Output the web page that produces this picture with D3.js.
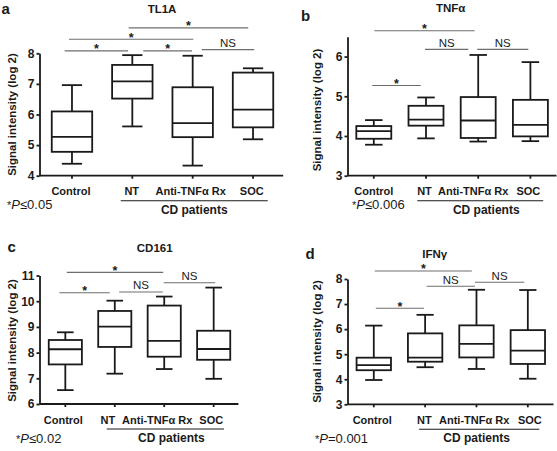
<!DOCTYPE html>
<html>
<head>
<meta charset="utf-8">
<script src="https://cdn.jsdelivr.net/npm/d3@7"></script>
<style>
  html, body { margin: 0; padding: 0; background: #fff; }
  svg { display: block; }
  text { font-family: "Liberation Sans", Arial, Helvetica, sans-serif; }
</style>
</head>
<body>
<svg id="chart" width="557" height="451"></svg>
<script>
// ---------------- DATA ----------------
const categories = ["Control", "NT", "Anti-TNFα Rx", "SOC"];
// box summaries per category: [min, q1, median, q3, max]
const tl1aBoxes  = [[4.39, 4.78, 5.27, 6.10, 6.96], [5.61, 6.52, 7.08, 7.62, 7.94], [4.33, 5.26, 5.72, 6.89, 7.92], [5.19, 5.58, 6.16, 7.37, 7.51]];
const tnfaBoxes  = [[3.78, 3.93, 4.12, 4.25, 4.40], [3.94, 4.26, 4.41, 4.76, 4.97], [3.86, 3.95, 4.39, 4.98, 6.04], [3.87, 3.99, 4.28, 4.91, 5.86]];
const cd161Boxes = [[6.54, 7.54, 8.13, 8.49, 8.79], [7.18, 8.22, 9.01, 9.62, 10.02], [7.36, 7.84, 8.46, 9.83, 10.18], [6.98, 7.72, 8.14, 8.85, 10.53]];
const ifngBoxes  = [[3.97, 4.36, 4.56, 4.86, 6.14], [4.48, 4.70, 4.86, 5.83, 6.57], [4.41, 4.87, 5.41, 6.15, 7.57], [4.02, 4.61, 5.14, 5.96, 7.56]];
// y tick labels
const tl1aTicks  = [4, 5, 6, 7, 8];
const tnfaTicks  = [3, 4, 5, 6];
const cd161Ticks = [6, 7, 8, 9, 10, 11];
const ifngTicks  = [3, 4, 5, 6, 7, 8];
// comparison brackets: [from (category index), to (category index), level (y value), label]
const tl1aComps  = [[-0.12, 0.93, 8.08, "*"], [1.18, 1.99, 8.08, "*"], [2.15, 3.02, 8.12, "NS"], [-0.05, 2.01, 8.46, "*"], [0.94, 2.92, 8.83, "*"]];
const tnfaComps  = [[0.01, 1.93, 6.65, "*"], [0.98, 1.81, 6.18, "NS"], [1.98, 2.96, 6.18, "NS"], [-0.03, 0.90, 5.27, "*"]];
const cd161Comps = [[0.03, 1.98, 11.12, "*"], [-0.12, 0.90, 10.33, "*"], [1.09, 1.97, 10.36, "NS"], [1.99, 3.03, 10.72, "NS"]];
const ifngComps  = [[0.02, 1.91, 8.32, "*"], [1.03, 1.97, 7.71, "NS"], [1.97, 2.93, 7.87, "NS"], [0.04, 0.98, 6.83, "*"]];
const titles   = ["TL1A", "TNFα", "CD161", "IFNγ"];
const letters  = ["a", "b", "c", "d"];
const pSymbols = ["≤", "≤", "≤", "="];
const pValues  = ["0.05", "0.006", "0.02", "0.001"];
const groupLabel = "CD patients";
const yLabel = "Signal intensity (log 2)";

// ---------------- LAYOUT ----------------
const panels = [
  { boxes: tl1aBoxes, ticks: tl1aTicks, comps: tl1aComps, yd: [4, 8], yr: [175.7, 53.3], xr: [41.8, 283.2], axisX: 39.5,
    letterXY: [1.5, 13.5], titleXY: [162, 13], yLabXY: [15.5, 114.5], pXY: [7, 209], labDx: [-1, -0.6, -2, -1.3],
    cdDx: 0, underDx: [-11.6, 14.7] },
  { boxes: tnfaBoxes, ticks: tnfaTicks, comps: tnfaComps, yd: [3, 6.5], yr: [175.7, 36.7], xr: [347.7, 556.5], axisX: 347.5,
    letterXY: [301, 20.5], titleXY: [450.7, 12], yLabXY: [321, 110], pXY: [352, 209], labDx: [0, -1.5, -5, -2],
    cdDx: 6, underDx: [-8.7, 12.8] },
  { boxes: cd161Boxes, ticks: cd161Ticks, comps: cd161Comps, yd: [6, 11], yr: [404, 275.5], xr: [40.6, 238.4], axisX: 39.5,
    letterXY: [7.5, 251.5], titleXY: [154.7, 252], yLabXY: [15.5, 340.5], pXY: [16, 443], labDx: [-2, -7, -7, -2.4],
    cdDx: 6, underDx: [-8, 10.3] },
  { boxes: ifngBoxes, ticks: ifngTicks, comps: ifngComps, yd: [3, 8], yr: [404.3, 279], xr: [348.1, 553.5], axisX: 347.5,
    letterXY: [305.5, 259], titleXY: [434.7, 258], yLabXY: [321, 341.5], pXY: [315, 443], labDx: [-1.6, -0.7, -2.3, 2],
    cdDx: -2.6, underDx: [-6, 11.5] }
];

const svg = d3.select("#chart");
const INK = "#1a1a1a";
const BRACKET = "#6e6e6e";
const SW = 1.8;

panels.forEach((p, pi) => {
  const g = svg.append("g");
  const x = d3.scaleBand().domain(categories).range(p.xr).paddingInner(0).paddingOuter(0);
  const y = d3.scaleLinear().domain(p.yd).range(p.yr);
  const step = x.step();
  const cx = c => x(c) + x.bandwidth() / 2;
  const xi = v => cx(categories[0]) + v * step;
  const bw = step * 0.67;
  const y0 = y(p.yd[0]);

  // Y axis
  const ya = g.append("g").attr("transform", `translate(${p.axisX},0)`)
    .call(d3.axisLeft(y).tickValues(p.ticks).tickSize(3).tickSizeOuter(0).tickPadding(2).tickFormat(d3.format("d")));
  ya.select(".domain").attr("stroke", INK).attr("stroke-width", SW);
  ya.selectAll(".tick line").attr("stroke", INK).attr("stroke-width", SW);
  ya.selectAll(".tick text").attr("fill", INK).style("font-size", "12px").style("font-weight", "bold")
    .style("font-family", "'Liberation Sans', Arial, sans-serif");

  // X axis
  const xa = g.append("g").attr("transform", `translate(0,${y0})`)
    .call(d3.axisBottom(x).tickSize(3).tickSizeOuter(0).tickPadding(9));
  xa.select(".domain").remove();
  xa.append("line").attr("x1", p.axisX).attr("x2", p.xr[1]).attr("y1", 0).attr("y2", 0)
    .attr("stroke", INK).attr("stroke-width", SW);
  xa.selectAll(".tick line").attr("stroke", INK).attr("stroke-width", SW);
  xa.selectAll(".tick text").attr("fill", INK).style("font-size", "11px").style("font-weight", "bold")
    .style("font-family", "'Liberation Sans', Arial, sans-serif")
    .attr("dx", (d, i) => p.labDx[i]);

  // Boxes
  const bx = g.selectAll(".box").data(p.boxes).join("g").attr("class", "box");
  bx.append("line") // whisker
    .attr("x1", (d, i) => cx(categories[i])).attr("x2", (d, i) => cx(categories[i]))
    .attr("y1", d => y(d[0])).attr("y2", d => y(d[4]))
    .attr("stroke", INK).attr("stroke-width", SW);
  [0, 4].forEach(k => {
    bx.append("line")
      .attr("x1", (d, i) => cx(categories[i]) - bw / 4).attr("x2", (d, i) => cx(categories[i]) + bw / 4)
      .attr("y1", d => y(d[k])).attr("y2", d => y(d[k]))
      .attr("stroke", INK).attr("stroke-width", SW);
  });
  bx.append("rect")
    .attr("x", (d, i) => cx(categories[i]) - bw / 2).attr("width", bw)
    .attr("y", d => y(d[3])).attr("height", d => y(d[1]) - y(d[3]))
    .attr("fill", "#fff").attr("stroke", INK).attr("stroke-width", SW);
  bx.append("line")
    .attr("x1", (d, i) => cx(categories[i]) - bw / 2).attr("x2", (d, i) => cx(categories[i]) + bw / 2)
    .attr("y1", d => y(d[2])).attr("y2", d => y(d[2]))
    .attr("stroke", INK).attr("stroke-width", SW);

  // Comparison brackets
  const cg = g.selectAll(".cmp").data(p.comps).join("g").attr("class", "cmp");
  cg.append("line")
    .attr("x1", d => xi(d[0])).attr("x2", d => xi(d[1]))
    .attr("y1", d => y(d[2])).attr("y2", d => y(d[2]))
    .attr("stroke", BRACKET).attr("stroke-width", 1.1);
  cg.append("text")
    .attr("x", d => (xi(d[0]) + xi(d[1])) / 2)
    .attr("y", d => d[3] === "*" ? y(d[2]) + 2.5 : y(d[2]) - 2.5)
    .attr("text-anchor", "middle")
    .style("font-size", d => d[3] === "*" ? "12.5px" : "11.5px")
    .style("font-weight", d => d[3] === "*" ? "bold" : "normal")
    .attr("fill", INK)
    .text(d => d[3]);

  // Group underline + label
  const u1 = cx(categories[1]) + p.underDx[0], u2 = cx(categories[3]) + p.underDx[1];
  g.append("line").attr("x1", u1).attr("x2", u2).attr("y1", y0 + 25).attr("y2", y0 + 25)
    .attr("stroke", INK).attr("stroke-width", 1.1);
  g.append("text").attr("x", (u1 + u2) / 2 + p.cdDx).attr("y", y0 + 37.8).attr("text-anchor", "middle")
    .style("font-size", "12px").style("font-weight", "bold").attr("fill", INK).text(groupLabel);

  // P value note
  const pt = g.append("text").attr("x", p.pXY[0]).attr("y", p.pXY[1])
    .style("font-size", "13px").attr("fill", INK);
  pt.append("tspan").style("font-size", "11px").text("*");
  pt.append("tspan").style("font-style", "italic").text("P");
  pt.append("tspan").text(pSymbols[pi] + pValues[pi]);

  // Y label
  g.append("text").attr("transform", `translate(${p.yLabXY[0]},${p.yLabXY[1]}) rotate(-90)`)
    .attr("text-anchor", "middle").style("font-size", "11.5px").style("font-weight", "bold")
    .attr("fill", INK).text(yLabel);

  // Title and panel letter
  g.append("text").attr("x", p.titleXY[0]).attr("y", p.titleXY[1]).attr("text-anchor", "middle")
    .style("font-size", "11.5px").style("font-weight", "bold").attr("fill", INK).text(titles[pi]);
  g.append("text").attr("x", p.letterXY[0]).attr("y", p.letterXY[1])
    .style("font-size", "15px").style("font-weight", "bold").attr("fill", INK).text(letters[pi]);
});
</script>
</body>
</html>
